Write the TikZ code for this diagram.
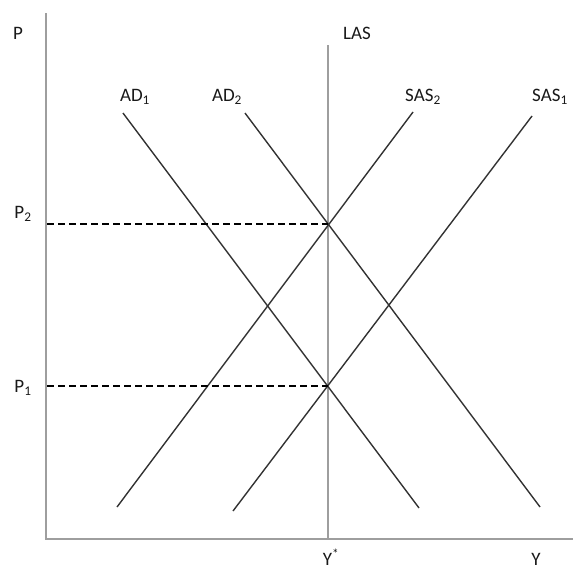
\documentclass[tikz,border=0pt]{standalone}
\usepackage{fontspec}
\setmainfont{Carlito}
\begin{document}
\begin{tikzpicture}[x=1pt,y=-1pt,
  axis/.style={draw=black!38,line width=2.8pt},
  curve/.style={draw=black!80,line width=1.4pt},
  guide/.style={draw=black,line width=1.4pt,dash pattern=on 7pt off 4pt},
  lbl/.style={font=\fontsize{19}{21}\selectfont,inner sep=0pt,text=black!90}]
\useasboundingbox (0,0) rectangle (573,573);
% axes
\coordinate (ytop) at (46,13);
\coordinate (org) at (46,539);
\coordinate (xend) at (573,539);
\draw[axis] (ytop) -- (org) -- (xend);
% LAS
\coordinate (lastop) at (328,45);
\coordinate (lasbot) at (328,539);
\draw[axis] (lastop) -- (lasbot);
% curves
\coordinate (ad1a) at (123,113); \coordinate (ad1b) at (419,508);
\coordinate (ad2a) at (245,113); \coordinate (ad2b) at (540,507);
\coordinate (sas2a) at (117,507); \coordinate (sas2b) at (413,112);
\coordinate (sas1a) at (233,511); \coordinate (sas1b) at (532,116);
\draw[curve] (ad1a) -- (ad1b);
\draw[curve] (ad2a) -- (ad2b);
\draw[curve] (sas2a) -- (sas2b);
\draw[curve] (sas1a) -- (sas1b);
% dashed guides
\coordinate (p2l) at (47,224); \coordinate (p2r) at (328,224);
\coordinate (p1l) at (47,386); \coordinate (p1r) at (328,386);
\draw[guide] (p2l) -- (p2r);
\draw[guide] (p1l) -- (p1r);
% labels
\node[lbl] (lP) at (18,33) {P};
\node[lbl] (lP2) at (23,214) {P\textsubscript{2}};
\node[lbl] (lP1) at (23,388) {P\textsubscript{1}};
\node[lbl] (lAD1) at (135,97) {AD\textsubscript{1}};
\node[lbl] (lAD2) at (227,97) {AD\textsubscript{2}};
\node[lbl] (lLAS) at (357,33) {LAS};
\node[lbl] (lSAS2) at (423,97) {SAS\textsubscript{2}};
\node[lbl] (lSAS1) at (550,97) {SAS\textsubscript{1}};
\node[lbl,anchor=base] (lYs) at (331,565) {Y\textsuperscript{*}};
\node[lbl,anchor=base] (lY) at (536,565) {Y};
\end{tikzpicture}
\end{document}
